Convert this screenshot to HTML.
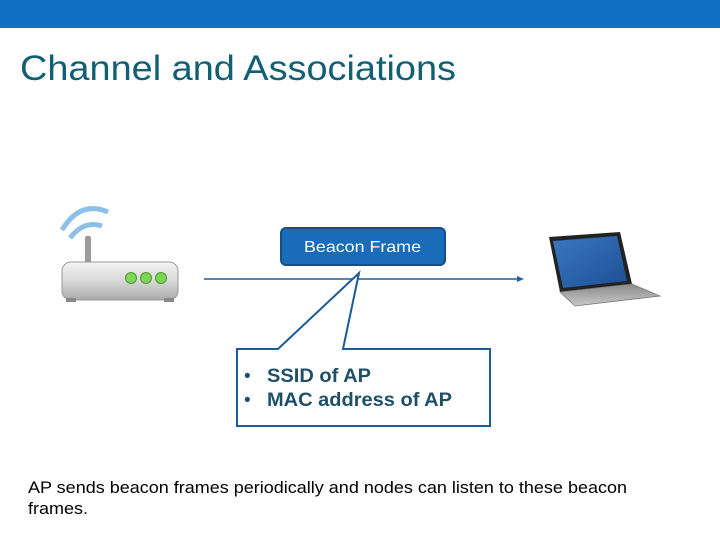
<!DOCTYPE html>
<html><head><meta charset="utf-8"><style>
html,body{margin:0;padding:0;background:#fff;}
svg{display:block;font-family:"Liberation Sans",Arial,sans-serif;}
</style></head><body>
<svg width="720" height="540" viewBox="0 0 720 540" xmlns="http://www.w3.org/2000/svg">
<defs>
<linearGradient id="rb" x1="0" y1="0" x2="0" y2="1"><stop offset="0" stop-color="#f4f4f4"/><stop offset="0.5" stop-color="#d8d8d8"/><stop offset="1" stop-color="#a9a9a9"/></linearGradient>
<linearGradient id="scr" x1="0" y1="0" x2="1" y2="1"><stop offset="0" stop-color="#3a78c0"/><stop offset="1" stop-color="#1d4f95"/></linearGradient>
<linearGradient id="kb" x1="0" y1="0" x2="0" y2="1"><stop offset="0" stop-color="#8a8a8a"/><stop offset="1" stop-color="#c9c9c9"/></linearGradient>
</defs>
<rect x="0" y="0" width="720" height="28" fill="#1170c4"/>
<text x="20" y="80" font-size="35" fill="#125f73" textLength="436" lengthAdjust="spacingAndGlyphs">Channel and Associations</text>

<path d="M62 230 Q80 200 108 212" fill="none" stroke="#8cc0e8" stroke-width="5"/>
<path d="M70 238 Q84 220 102 226" fill="none" stroke="#8cc0e8" stroke-width="5"/>
<rect x="85" y="236" width="6" height="30" rx="2" fill="#9a9a9a"/>
<rect x="62" y="262" width="116" height="38" rx="9" fill="url(#rb)" stroke="#9a9a9a"/>
<rect x="66" y="298" width="10" height="4" fill="#888"/><rect x="164" y="298" width="10" height="4" fill="#888"/>
<circle cx="131" cy="278" r="5.5" fill="#7fd45a" stroke="#4a9a2a"/>
<circle cx="146" cy="278" r="5.5" fill="#7fd45a" stroke="#4a9a2a"/>
<circle cx="161" cy="278" r="5.5" fill="#7fd45a" stroke="#4a9a2a"/>

<path d="M549 237 L620 232 L632 284 L560 292 Z" fill="#222" />
<path d="M553 241 L617 236 L627 281 L563 288 Z" fill="url(#scr)"/>
<path d="M560 292 L632 284 L660 296 L575 306 Z" fill="url(#kb)" stroke="#777" stroke-width="0.8"/>

<line x1="204" y1="279" x2="520" y2="279" stroke="#1f5f9a" stroke-width="1.5"/>
<path d="M524 279 L517 276 L517 282 Z" fill="#1f5f9a"/>

<rect x="281" y="228" width="164" height="37" rx="5" fill="#1a6bb8" stroke="#164e86" stroke-width="2"/>
<text x="304" y="252" font-size="16" fill="#fff" textLength="117" lengthAdjust="spacingAndGlyphs">Beacon Frame</text>

<path d="M237 349 L278 349 L359 273 L343 349 L490 349 L490 426 L237 426 Z" fill="#fff" stroke="#1d5a9a" stroke-width="2" stroke-linejoin="miter"/>
<g font-size="19" font-weight="bold" fill="#1f5068">
<text x="244" y="382" font-weight="normal">•</text><text x="267" y="382" textLength="104" lengthAdjust="spacingAndGlyphs">SSID of AP</text>
<text x="244" y="406" font-weight="normal">•</text><text x="267" y="406" textLength="185" lengthAdjust="spacingAndGlyphs">MAC address of AP</text>
</g>

<text x="28" y="493" font-size="17" fill="#000" textLength="599" lengthAdjust="spacingAndGlyphs">AP sends beacon frames periodically and nodes can listen to these beacon</text>
<text x="28" y="514" font-size="17" fill="#000" textLength="60" lengthAdjust="spacingAndGlyphs">frames.</text>
</svg>
</body></html>
